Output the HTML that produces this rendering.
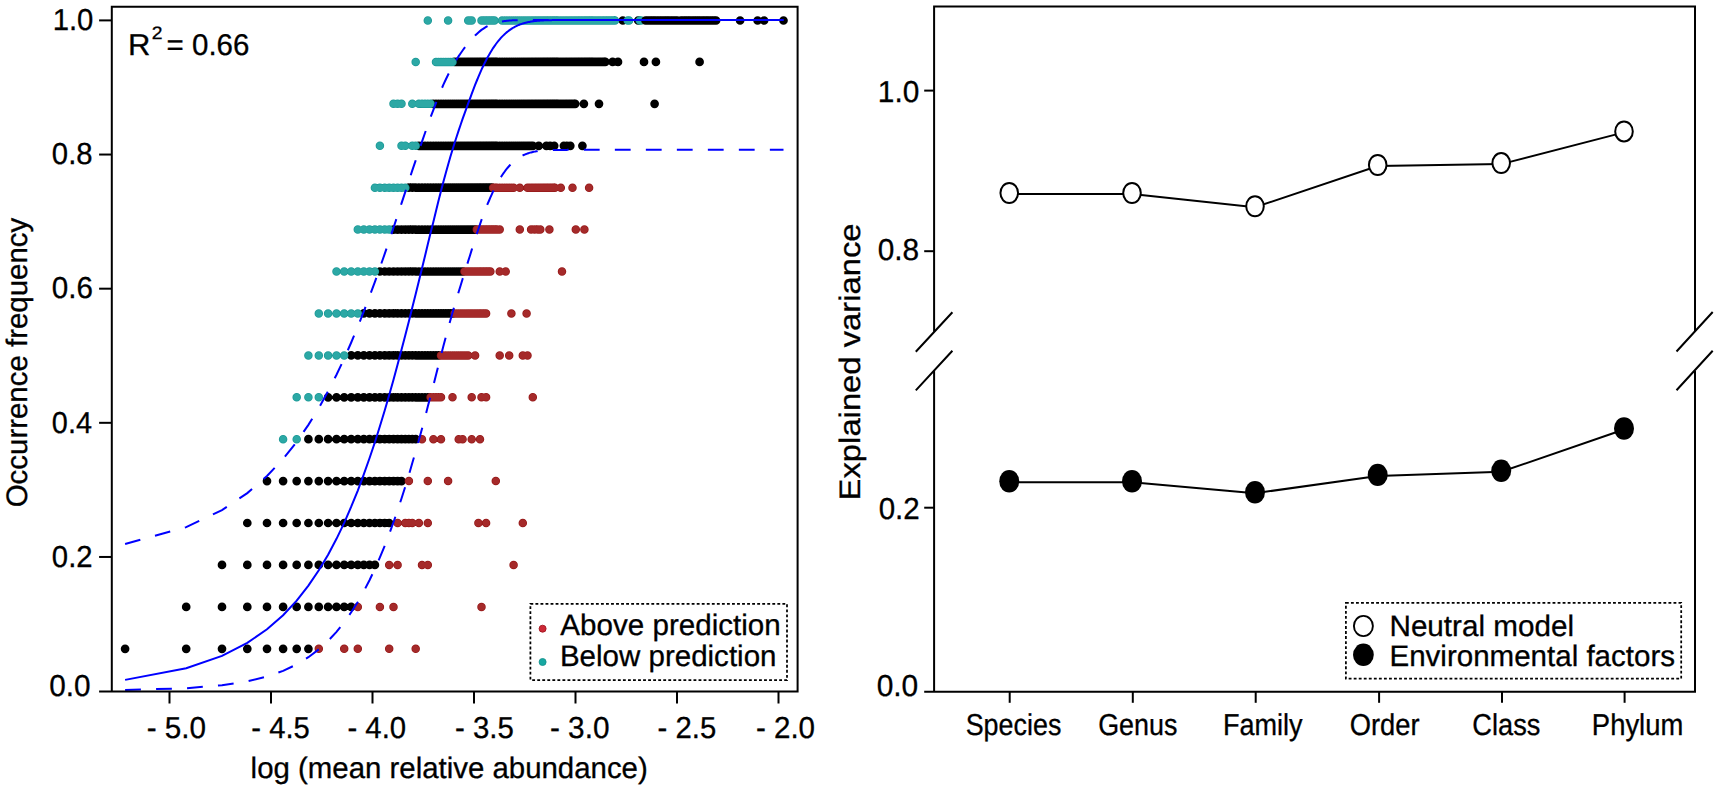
<!DOCTYPE html>
<html lang="en"><head><meta charset="utf-8"><title>Neutral model fit and explained variance</title>
<style>html,body{margin:0;padding:0;background:#fff}svg{display:block}text{font-family:"Liberation Sans",sans-serif;fill:#000;text-rendering:geometricPrecision;stroke:#000;stroke-width:0.3px}</style></head><body>
<svg width="1719" height="790" viewBox="0 0 1719 790">
<rect width="1719" height="790" fill="#fff"/>
<g id="left-panel">
<g fill="none" stroke-linecap="round">
<path d="M125.1 648.8h0M186.2 648.8h0M222 648.8h0M247.3 648.8h0M267 648.8h0M283.1 648.8h0M296.7 648.8h0M308.4 648.8h0M186.2 606.9h0M222 606.9h0M247.3 606.9h0M267 606.9h0M283.1 606.9h0M296.7 606.9h0M308.4 606.9h0M318.8 606.9h0M328.1 606.9h0M336.5 606.9h0M344.2 606.9h0M351.2 606.9h0M222 564.9h0M247.3 564.9h0M267 564.9h0M283.1 564.9h0M296.7 564.9h0M308.4 564.9h0M318.8 564.9h0M328.1 564.9h0M336.5 564.9h0M344.2 564.9h0M351.2 564.9h0M357.8 564.9h0M363.8 564.9h0M369.5 564.9h0M374.9 564.9h0M247.3 523h0M267 523h0M283.1 523h0M296.7 523h0M308.4 523h0M318.8 523h0M328.1 523h0M336.5 523h0M344.2 523h0M351.2 523h0M357.8 523h0M363.8 523h0M369.5 523h0M374.9 523h0M379.9 523h0M384.7 523h0M389.2 523h0M267 481.1h0M283.1 481.1h0M296.7 481.1h0M308.4 481.1h0M318.8 481.1h0M328.1 481.1h0M336.5 481.1h0M344.2 481.1h0M351.2 481.1h0M357.8 481.1h0M363.8 481.1h0M369.5 481.1h0M374.9 481.1h0M379.9 481.1h0M384.7 481.1h0M389.2 481.1h0M393.5 481.1h0M397.6 481.1h0M401.5 481.1h0M308.4 439.2h0M318.8 439.2h0M328.1 439.2h0M336.5 439.2h0M344.2 439.2h0M351.2 439.2h0M357.8 439.2h0M363.8 439.2h0M369.5 439.2h0M374.9 439.2h0M379.9 439.2h0M384.7 439.2h0M389.2 439.2h0M393.5 439.2h0M397.6 439.2h0M401.5 439.2h0M405.3 439.2h0M408.9 439.2h0M412.3 439.2h0M415.7 439.2h0M328.1 397.3h0M336.5 397.3h0M344.2 397.3h0M351.2 397.3h0M357.8 397.3h0M363.8 397.3h0M369.5 397.3h0M374.9 397.3h0M379.9 397.3h0M384.7 397.3h0M389.2 397.3h0M393.5 397.3h0M397.6 397.3h0M401.5 397.3h0M405.3 397.3h0M408.9 397.3h0M412.3 397.3h0M415.7 397.3h0M418.9 397.3h0M422 397.3h0M425 397.3h0M427.8 397.3h0M351.2 355.4h0M357.8 355.4h0M363.8 355.4h0M369.5 355.4h0M374.9 355.4h0M379.9 355.4h0M384.7 355.4h0M389.2 355.4h0M393.5 355.4h0M397.6 355.4h0M401.5 355.4h0M405.3 355.4h0M408.9 355.4h0M412.3 355.4h0M415.7 355.4h0M418.9 355.4h0M422 355.4h0M425 355.4h0M427.8 355.4h0M430.6 355.4h0M433.4 355.4h0M436 355.4h0M438.5 355.4h0M363.8 313.4h0M369.5 313.4h0M374.9 313.4h0M379.9 313.4h0M384.7 313.4h0M389.2 313.4h0M393.5 313.4h0M397.6 313.4h0M401.5 313.4h0M405.3 313.4h0M408.9 313.4h0M412.3 313.4h0M415.7 313.4h0M418.9 313.4h0M422 313.4h0M425 313.4h0M427.8 313.4h0M430.6 313.4h0M433.4 313.4h0M436 313.4h0M438.5 313.4h0M441 313.4h0M443.4 313.4h0M445.8 313.4h0M448.1 313.4h0M450.3 313.4h0M452.5 313.4h0M379.9 271.5h0M384.7 271.5h0M389.2 271.5h0M393.5 271.5h0M397.6 271.5h0M401.5 271.5h0M405.3 271.5h0M408.9 271.5h0M412.3 271.5h0M415.7 271.5h0M418.9 271.5h0M422 271.5h0M425 271.5h0M427.8 271.5h0M430.6 271.5h0M433.4 271.5h0M436 271.5h0M438.5 271.5h0M441 271.5h0M443.4 271.5h0M445.8 271.5h0M448.1 271.5h0M450.3 271.5h0M452.5 271.5h0M454.6 271.5h0M456.7 271.5h0M458.7 271.5h0M460.7 271.5h0M462.6 271.5h0M393.5 229.6h0M397.6 229.6h0M401.5 229.6h0M405.3 229.6h0M408.9 229.6h0M412.3 229.6h0M415.7 229.6h0M418.9 229.6h0M422 229.6h0M425 229.6h0M427.8 229.6h0M430.6 229.6h0M433.4 229.6h0M436 229.6h0M438.5 229.6h0M441 229.6h0M443.4 229.6h0M445.8 229.6h0M448.1 229.6h0M450.3 229.6h0M452.5 229.6h0M454.6 229.6h0M456.7 229.6h0M458.7 229.6h0M460.7 229.6h0M462.6 229.6h0M464.5 229.6h0M466.4 229.6h0M468.2 229.6h0M470 229.6h0M471.7 229.6h0M473.4 229.6h0M475.1 229.6h0M408.9 187.7h0M412.3 187.7h0M415.7 187.7h0M418.9 187.7h0M422 187.7h0M425 187.7h0M427.8 187.7h0M430.6 187.7h0M433.4 187.7h0M436 187.7h0M438.5 187.7h0M441 187.7h0M443.4 187.7h0M445.8 187.7h0M448.1 187.7h0M450.3 187.7h0M452.5 187.7h0M454.6 187.7h0M456.7 187.7h0M458.7 187.7h0M460.7 187.7h0M462.6 187.7h0M464.5 187.7h0M466.4 187.7h0M468.2 187.7h0M470 187.7h0M471.7 187.7h0M473.4 187.7h0M475.1 187.7h0M476.8 187.7h0M478.4 187.7h0M480 187.7h0M481.5 187.7h0M483.1 187.7h0M484.6 187.7h0M486.1 187.7h0M487.5 187.7h0M489 187.7h0M490.4 187.7h0M491.8 187.7h0M418.9 145.8h0M422 145.8h0M425 145.8h0M427.8 145.8h0M430.6 145.8h0M433.4 145.8h0M436 145.8h0M438.5 145.8h0M441 145.8h0M443.4 145.8h0M445.8 145.8h0M448.1 145.8h0M450.3 145.8h0M452.5 145.8h0M454.6 145.8h0M456.7 145.8h0M458.7 145.8h0M460.7 145.8h0M462.6 145.8h0M464.5 145.8h0M466.4 145.8h0M468.2 145.8h0M470 145.8h0M471.7 145.8h0M473.4 145.8h0M475.1 145.8h0M476.8 145.8h0M478.4 145.8h0M480 145.8h0M481.5 145.8h0M483.1 145.8h0M484.6 145.8h0M486.1 145.8h0M487.5 145.8h0M489 145.8h0M490.4 145.8h0M491.8 145.8h0M493.1 145.8h0M494.5 145.8h0M495.8 145.8h0M497.1 145.8h0M499.7 145.8h0M502.1 145.8h0M504.6 145.8h0M506.9 145.8h0M509.2 145.8h0M511.4 145.8h0M513.6 145.8h0M515.7 145.8h0M517.8 145.8h0M519.8 145.8h0M521.8 145.8h0M523.7 145.8h0M525.6 145.8h0M527.5 145.8h0M529.3 145.8h0M531.1 145.8h0M532.8 145.8h0M538.7 145.8h0M546.4 145.8h0M550.1 145.8h0M554.2 145.8h0M563.9 145.8h0M566.8 145.8h0M570.3 145.8h0M582.4 145.8h0M433.4 103.8h0M436 103.8h0M438.5 103.8h0M441 103.8h0M443.4 103.8h0M445.8 103.8h0M448.1 103.8h0M450.3 103.8h0M452.5 103.8h0M454.6 103.8h0M456.7 103.8h0M458.7 103.8h0M460.7 103.8h0M462.6 103.8h0M464.5 103.8h0M466.4 103.8h0M468.2 103.8h0M470 103.8h0M471.7 103.8h0M473.4 103.8h0M475.1 103.8h0M476.8 103.8h0M478.4 103.8h0M480 103.8h0M481.5 103.8h0M483.1 103.8h0M484.6 103.8h0M486.1 103.8h0M487.5 103.8h0M489 103.8h0M490.4 103.8h0M491.8 103.8h0M493.1 103.8h0M494.5 103.8h0M495.8 103.8h0M497.1 103.8h0M499.7 103.8h0M502.1 103.8h0M504.6 103.8h0M506.9 103.8h0M509.2 103.8h0M511.4 103.8h0M513.6 103.8h0M515.7 103.8h0M517.8 103.8h0M519.8 103.8h0M521.8 103.8h0M523.7 103.8h0M525.6 103.8h0M527.5 103.8h0M529.3 103.8h0M531.1 103.8h0M532.8 103.8h0M534.6 103.8h0M536.2 103.8h0M537.9 103.8h0M539.5 103.8h0M541.1 103.8h0M542.7 103.8h0M544.2 103.8h0M545.7 103.8h0M547.2 103.8h0M548.6 103.8h0M550.1 103.8h0M551.5 103.8h0M552.9 103.8h0M554.2 103.8h0M555.6 103.8h0M556.9 103.8h0M558.2 103.8h0M560.1 103.8h0M562 103.8h0M563.9 103.8h0M565.7 103.8h0M567.4 103.8h0M569.2 103.8h0M570.9 103.8h0M572.5 103.8h0M574.2 103.8h0M575.2 103.8h0M583.9 103.8h0M599 103.8h0M654.6 103.8h0M454.6 61.9h0M456.7 61.9h0M458.7 61.9h0M460.7 61.9h0M462.6 61.9h0M464.5 61.9h0M466.4 61.9h0M468.2 61.9h0M470 61.9h0M471.7 61.9h0M473.4 61.9h0M475.1 61.9h0M476.8 61.9h0M478.4 61.9h0M480 61.9h0M481.5 61.9h0M483.1 61.9h0M484.6 61.9h0M486.1 61.9h0M487.5 61.9h0M489 61.9h0M490.4 61.9h0M491.8 61.9h0M493.1 61.9h0M494.5 61.9h0M495.8 61.9h0M497.1 61.9h0M499.7 61.9h0M502.1 61.9h0M504.6 61.9h0M506.9 61.9h0M509.2 61.9h0M511.4 61.9h0M513.6 61.9h0M515.7 61.9h0M517.8 61.9h0M519.8 61.9h0M521.8 61.9h0M523.7 61.9h0M525.6 61.9h0M527.5 61.9h0M529.3 61.9h0M531.1 61.9h0M532.8 61.9h0M534.6 61.9h0M536.2 61.9h0M537.9 61.9h0M539.5 61.9h0M541.1 61.9h0M542.7 61.9h0M544.2 61.9h0M545.7 61.9h0M547.2 61.9h0M548.6 61.9h0M550.1 61.9h0M551.5 61.9h0M552.9 61.9h0M554.2 61.9h0M555.6 61.9h0M556.9 61.9h0M558.2 61.9h0M560.1 61.9h0M562 61.9h0M563.9 61.9h0M565.7 61.9h0M567.4 61.9h0M569.2 61.9h0M570.9 61.9h0M572.5 61.9h0M574.2 61.9h0M575.8 61.9h0M577.4 61.9h0M578.9 61.9h0M580.4 61.9h0M581.9 61.9h0M583.4 61.9h0M584.9 61.9h0M586.3 61.9h0M587.7 61.9h0M589.1 61.9h0M590.4 61.9h0M591.8 61.9h0M593.1 61.9h0M594.8 61.9h0M596.5 61.9h0M598.2 61.9h0M599.8 61.9h0M601.4 61.9h0M603 61.9h0M604.5 61.9h0M605.3 61.9h0M612.6 61.9h0M618 61.9h0M644 61.9h0M655.9 61.9h0M699.6 61.9h0M622.8 20.5h0M638.2 20.5h0" stroke="#000" stroke-width="8.7"/>
<path d="M318.8 648.8h0M344.2 648.8h0M357.8 648.8h0M389.2 648.8h0M415.7 648.8h0M357.8 606.9h0M379.9 606.9h0M393.5 606.9h0M481.5 606.9h0M389.2 564.9h0M397.6 564.9h0M422 564.9h0M427.8 564.9h0M513.6 564.9h0M397.6 523h0M405.3 523h0M408.9 523h0M412.3 523h0M418.9 523h0M427.8 523h0M478.4 523h0M486.1 523h0M522.8 523h0M408.9 481.1h0M427.8 481.1h0M448.1 481.1h0M495.8 481.1h0M422 439.2h0M433.4 439.2h0M441 439.2h0M458.7 439.2h0M462.6 439.2h0M471.7 439.2h0M480 439.2h0M430.6 397.3h0M433.4 397.3h0M436 397.3h0M438.5 397.3h0M441 397.3h0M452.5 397.3h0M471.7 397.3h0M481.5 397.3h0M486.1 397.3h0M532.8 397.3h0M441 355.4h0M443.4 355.4h0M445.8 355.4h0M448.1 355.4h0M450.3 355.4h0M452.5 355.4h0M454.6 355.4h0M456.7 355.4h0M458.7 355.4h0M460.7 355.4h0M462.6 355.4h0M464.5 355.4h0M466.4 355.4h0M468.2 355.4h0M475.1 355.4h0M499.7 355.4h0M509.2 355.4h0M522.8 355.4h0M527.5 355.4h0M454.6 313.4h0M456.7 313.4h0M458.7 313.4h0M460.7 313.4h0M462.6 313.4h0M464.5 313.4h0M466.4 313.4h0M468.2 313.4h0M470 313.4h0M471.7 313.4h0M473.4 313.4h0M475.1 313.4h0M476.8 313.4h0M478.4 313.4h0M480 313.4h0M481.5 313.4h0M483.1 313.4h0M484.6 313.4h0M486.1 313.4h0M511.4 313.4h0M526.6 313.4h0M464.5 271.5h0M466.4 271.5h0M468.2 271.5h0M470 271.5h0M471.7 271.5h0M473.4 271.5h0M475.1 271.5h0M476.8 271.5h0M478.4 271.5h0M480 271.5h0M481.5 271.5h0M483.1 271.5h0M484.6 271.5h0M486.1 271.5h0M487.5 271.5h0M489 271.5h0M490.4 271.5h0M499.7 271.5h0M505.7 271.5h0M562 271.5h0M476.8 229.6h0M478.4 229.6h0M480 229.6h0M481.5 229.6h0M483.1 229.6h0M484.6 229.6h0M486.1 229.6h0M487.5 229.6h0M489 229.6h0M490.4 229.6h0M491.8 229.6h0M493.1 229.6h0M494.5 229.6h0M495.8 229.6h0M497.1 229.6h0M499.7 229.6h0M519.8 229.6h0M531.1 229.6h0M534.6 229.6h0M537.9 229.6h0M540.3 229.6h0M549.4 229.6h0M575.8 229.6h0M584.4 229.6h0M493.1 187.7h0M494.5 187.7h0M495.8 187.7h0M497.1 187.7h0M499.7 187.7h0M502.1 187.7h0M504.6 187.7h0M506.9 187.7h0M509.2 187.7h0M511.4 187.7h0M513.6 187.7h0M519.8 187.7h0M527.5 187.7h0M529.3 187.7h0M531.1 187.7h0M532.8 187.7h0M534.6 187.7h0M536.2 187.7h0M537.9 187.7h0M539.5 187.7h0M541.1 187.7h0M542.7 187.7h0M544.2 187.7h0M545.7 187.7h0M547.2 187.7h0M548.6 187.7h0M550.1 187.7h0M551.5 187.7h0M552.9 187.7h0M554.2 187.7h0M554.9 187.7h0M560.8 187.7h0M572.5 187.7h0M589.1 187.7h0" stroke="#961818" stroke-width="8.5"/>
<path d="M318.8 648.8h0M344.2 648.8h0M357.8 648.8h0M389.2 648.8h0M415.7 648.8h0M357.8 606.9h0M379.9 606.9h0M393.5 606.9h0M481.5 606.9h0M389.2 564.9h0M397.6 564.9h0M422 564.9h0M427.8 564.9h0M513.6 564.9h0M397.6 523h0M405.3 523h0M408.9 523h0M412.3 523h0M418.9 523h0M427.8 523h0M478.4 523h0M486.1 523h0M522.8 523h0M408.9 481.1h0M427.8 481.1h0M448.1 481.1h0M495.8 481.1h0M422 439.2h0M433.4 439.2h0M441 439.2h0M458.7 439.2h0M462.6 439.2h0M471.7 439.2h0M480 439.2h0M430.6 397.3h0M433.4 397.3h0M436 397.3h0M438.5 397.3h0M441 397.3h0M452.5 397.3h0M471.7 397.3h0M481.5 397.3h0M486.1 397.3h0M532.8 397.3h0M441 355.4h0M443.4 355.4h0M445.8 355.4h0M448.1 355.4h0M450.3 355.4h0M452.5 355.4h0M454.6 355.4h0M456.7 355.4h0M458.7 355.4h0M460.7 355.4h0M462.6 355.4h0M464.5 355.4h0M466.4 355.4h0M468.2 355.4h0M475.1 355.4h0M499.7 355.4h0M509.2 355.4h0M522.8 355.4h0M527.5 355.4h0M454.6 313.4h0M456.7 313.4h0M458.7 313.4h0M460.7 313.4h0M462.6 313.4h0M464.5 313.4h0M466.4 313.4h0M468.2 313.4h0M470 313.4h0M471.7 313.4h0M473.4 313.4h0M475.1 313.4h0M476.8 313.4h0M478.4 313.4h0M480 313.4h0M481.5 313.4h0M483.1 313.4h0M484.6 313.4h0M486.1 313.4h0M511.4 313.4h0M526.6 313.4h0M464.5 271.5h0M466.4 271.5h0M468.2 271.5h0M470 271.5h0M471.7 271.5h0M473.4 271.5h0M475.1 271.5h0M476.8 271.5h0M478.4 271.5h0M480 271.5h0M481.5 271.5h0M483.1 271.5h0M484.6 271.5h0M486.1 271.5h0M487.5 271.5h0M489 271.5h0M490.4 271.5h0M499.7 271.5h0M505.7 271.5h0M562 271.5h0M476.8 229.6h0M478.4 229.6h0M480 229.6h0M481.5 229.6h0M483.1 229.6h0M484.6 229.6h0M486.1 229.6h0M487.5 229.6h0M489 229.6h0M490.4 229.6h0M491.8 229.6h0M493.1 229.6h0M494.5 229.6h0M495.8 229.6h0M497.1 229.6h0M499.7 229.6h0M519.8 229.6h0M531.1 229.6h0M534.6 229.6h0M537.9 229.6h0M540.3 229.6h0M549.4 229.6h0M575.8 229.6h0M584.4 229.6h0M493.1 187.7h0M494.5 187.7h0M495.8 187.7h0M497.1 187.7h0M499.7 187.7h0M502.1 187.7h0M504.6 187.7h0M506.9 187.7h0M509.2 187.7h0M511.4 187.7h0M513.6 187.7h0M519.8 187.7h0M527.5 187.7h0M529.3 187.7h0M531.1 187.7h0M532.8 187.7h0M534.6 187.7h0M536.2 187.7h0M537.9 187.7h0M539.5 187.7h0M541.1 187.7h0M542.7 187.7h0M544.2 187.7h0M545.7 187.7h0M547.2 187.7h0M548.6 187.7h0M550.1 187.7h0M551.5 187.7h0M552.9 187.7h0M554.2 187.7h0M554.9 187.7h0M560.8 187.7h0M572.5 187.7h0M589.1 187.7h0" stroke="#A52A2A" stroke-width="7"/>
<path d="M283.1 439.2h0M296.7 439.2h0M296.7 397.3h0M308.4 397.3h0M318.8 397.3h0M308.4 355.4h0M318.8 355.4h0M328.1 355.4h0M336.5 355.4h0M344.2 355.4h0M318.8 313.4h0M328.1 313.4h0M336.5 313.4h0M344.2 313.4h0M351.2 313.4h0M357.8 313.4h0M336.5 271.5h0M344.2 271.5h0M351.2 271.5h0M357.8 271.5h0M363.8 271.5h0M369.5 271.5h0M374.9 271.5h0M357.8 229.6h0M363.8 229.6h0M369.5 229.6h0M374.9 229.6h0M379.9 229.6h0M384.7 229.6h0M389.2 229.6h0M374.9 187.7h0M379.9 187.7h0M384.7 187.7h0M389.2 187.7h0M393.5 187.7h0M397.6 187.7h0M401.5 187.7h0M405.3 187.7h0M379.9 145.8h0M401.5 145.8h0M405.3 145.8h0M412.3 145.8h0M415.7 145.8h0M393.5 103.8h0M397.6 103.8h0M401.5 103.8h0M412.3 103.8h0M418.9 103.8h0M422 103.8h0M425 103.8h0M427.8 103.8h0M430.6 103.8h0M415.7 61.9h0M436 61.9h0M438.5 61.9h0M441 61.9h0M443.4 61.9h0M445.8 61.9h0M448.1 61.9h0M450.3 61.9h0M452.5 61.9h0M427.8 20.5h0M448.1 20.5h0M468.2 20.5h0M470 20.5h0M471.7 20.5h0M481.5 20.5h0M483.1 20.5h0M484.6 20.5h0M486.1 20.5h0M487.5 20.5h0M489 20.5h0M490.4 20.5h0M491.8 20.5h0M493.1 20.5h0M494.5 20.5h0M502.1 20.5h0M504.6 20.5h0M506.9 20.5h0M509.2 20.5h0M511.4 20.5h0M513.6 20.5h0M515.7 20.5h0M517.8 20.5h0M519.8 20.5h0M521.8 20.5h0M523.7 20.5h0M525.6 20.5h0M527.5 20.5h0M529.3 20.5h0M531.1 20.5h0M532.8 20.5h0M534.6 20.5h0M536.2 20.5h0M537.9 20.5h0M539.5 20.5h0M541.1 20.5h0M542.7 20.5h0M544.2 20.5h0M545.7 20.5h0M547.2 20.5h0M548.6 20.5h0M550.1 20.5h0M551.5 20.5h0M552.9 20.5h0M554.2 20.5h0M555.6 20.5h0M556.9 20.5h0M558.2 20.5h0M560.1 20.5h0M562 20.5h0M563.9 20.5h0M565.7 20.5h0M567.4 20.5h0M569.2 20.5h0M570.9 20.5h0M572.5 20.5h0M574.2 20.5h0M575.8 20.5h0M577.4 20.5h0M578.9 20.5h0M580.4 20.5h0M581.9 20.5h0M583.4 20.5h0M584.9 20.5h0M586.3 20.5h0M587.7 20.5h0M589.1 20.5h0M590.4 20.5h0M591.8 20.5h0M593.1 20.5h0M594.8 20.5h0M596.5 20.5h0M598.2 20.5h0M599.8 20.5h0M601.4 20.5h0M603 20.5h0M604.5 20.5h0M606.1 20.5h0M607.5 20.5h0M609 20.5h0M610.5 20.5h0M611.9 20.5h0M613.3 20.5h0M614.7 20.5h0M615 20.5h0M627.7 20.5h0M629.1 20.5h0M639.8 20.5h0M641 20.5h0" stroke="#1A9896" stroke-width="8.5"/>
<path d="M283.1 439.2h0M296.7 439.2h0M296.7 397.3h0M308.4 397.3h0M318.8 397.3h0M308.4 355.4h0M318.8 355.4h0M328.1 355.4h0M336.5 355.4h0M344.2 355.4h0M318.8 313.4h0M328.1 313.4h0M336.5 313.4h0M344.2 313.4h0M351.2 313.4h0M357.8 313.4h0M336.5 271.5h0M344.2 271.5h0M351.2 271.5h0M357.8 271.5h0M363.8 271.5h0M369.5 271.5h0M374.9 271.5h0M357.8 229.6h0M363.8 229.6h0M369.5 229.6h0M374.9 229.6h0M379.9 229.6h0M384.7 229.6h0M389.2 229.6h0M374.9 187.7h0M379.9 187.7h0M384.7 187.7h0M389.2 187.7h0M393.5 187.7h0M397.6 187.7h0M401.5 187.7h0M405.3 187.7h0M379.9 145.8h0M401.5 145.8h0M405.3 145.8h0M412.3 145.8h0M415.7 145.8h0M393.5 103.8h0M397.6 103.8h0M401.5 103.8h0M412.3 103.8h0M418.9 103.8h0M422 103.8h0M425 103.8h0M427.8 103.8h0M430.6 103.8h0M415.7 61.9h0M436 61.9h0M438.5 61.9h0M441 61.9h0M443.4 61.9h0M445.8 61.9h0M448.1 61.9h0M450.3 61.9h0M452.5 61.9h0M427.8 20.5h0M448.1 20.5h0M468.2 20.5h0M470 20.5h0M471.7 20.5h0M481.5 20.5h0M483.1 20.5h0M484.6 20.5h0M486.1 20.5h0M487.5 20.5h0M489 20.5h0M490.4 20.5h0M491.8 20.5h0M493.1 20.5h0M494.5 20.5h0M502.1 20.5h0M504.6 20.5h0M506.9 20.5h0M509.2 20.5h0M511.4 20.5h0M513.6 20.5h0M515.7 20.5h0M517.8 20.5h0M519.8 20.5h0M521.8 20.5h0M523.7 20.5h0M525.6 20.5h0M527.5 20.5h0M529.3 20.5h0M531.1 20.5h0M532.8 20.5h0M534.6 20.5h0M536.2 20.5h0M537.9 20.5h0M539.5 20.5h0M541.1 20.5h0M542.7 20.5h0M544.2 20.5h0M545.7 20.5h0M547.2 20.5h0M548.6 20.5h0M550.1 20.5h0M551.5 20.5h0M552.9 20.5h0M554.2 20.5h0M555.6 20.5h0M556.9 20.5h0M558.2 20.5h0M560.1 20.5h0M562 20.5h0M563.9 20.5h0M565.7 20.5h0M567.4 20.5h0M569.2 20.5h0M570.9 20.5h0M572.5 20.5h0M574.2 20.5h0M575.8 20.5h0M577.4 20.5h0M578.9 20.5h0M580.4 20.5h0M581.9 20.5h0M583.4 20.5h0M584.9 20.5h0M586.3 20.5h0M587.7 20.5h0M589.1 20.5h0M590.4 20.5h0M591.8 20.5h0M593.1 20.5h0M594.8 20.5h0M596.5 20.5h0M598.2 20.5h0M599.8 20.5h0M601.4 20.5h0M603 20.5h0M604.5 20.5h0M606.1 20.5h0M607.5 20.5h0M609 20.5h0M610.5 20.5h0M611.9 20.5h0M613.3 20.5h0M614.7 20.5h0M615 20.5h0M627.7 20.5h0M629.1 20.5h0M639.8 20.5h0M641 20.5h0" stroke="#2CA8A5" stroke-width="7"/>
<path d="M645.5 20.5h0M646.9 20.5h0M648.3 20.5h0M649.7 20.5h0M651.1 20.5h0M652.4 20.5h0M653.8 20.5h0M655.1 20.5h0M656.6 20.5h0M658 20.5h0M659.5 20.5h0M660.9 20.5h0M662.3 20.5h0M663.7 20.5h0M665.1 20.5h0M666.4 20.5h0M667.7 20.5h0M669 20.5h0M670.5 20.5h0M671.9 20.5h0M673.3 20.5h0M674.7 20.5h0M676.1 20.5h0M677.5 20.5h0M680.6 20.5h0M682 20.5h0M683.5 20.5h0M684.9 20.5h0M686.2 20.5h0M687.6 20.5h0M688.9 20.5h0M690.2 20.5h0M691.7 20.5h0M693.1 20.5h0M694.5 20.5h0M695.8 20.5h0M697.2 20.5h0M698.5 20.5h0M699.8 20.5h0M701.3 20.5h0M702.7 20.5h0M704 20.5h0M705.4 20.5h0M706.7 20.5h0M708 20.5h0M709.4 20.5h0M710.8 20.5h0M712.2 20.5h0M713.5 20.5h0M714.9 20.5h0M716.1 20.5h0M740.1 20.5h0M757.6 20.5h0M764.1 20.5h0M783.5 20.5h0" stroke="#000" stroke-width="8.7"/>
</g>
<g fill="none" stroke="#0000FF" stroke-width="2">
<polyline points="125.1,679.86 186.2,668.24 222,655.9 247.3,642.9 267,629.31 283.1,615.18 296.7,600.59 308.4,585.6 318.8,570.27 328.1,554.65 336.5,538.82 344.2,522.82 351.2,506.71 357.8,490.55 363.8,474.38 369.5,458.26 374.9,442.21 379.9,426.3 384.7,410.54 389.2,394.99 393.5,379.67 397.6,364.61 401.5,349.84 405.3,335.37 408.9,321.24 412.3,307.46 415.7,294.03 418.9,280.99 422,268.33 425,256.06 427.8,244.2 430.6,232.74 433.4,221.68 436,211.04 438.5,200.8 441,190.96 443.4,181.63 445.8,172.89 448.1,164.7 450.3,157 452.5,149.75 454.6,142.92 456.7,136.46 458.7,130.33 460.7,124.5 462.6,118.92 464.5,113.58 466.4,108.43 468.2,103.45 470,98.63 471.7,93.93 473.4,89.34 475.1,84.92 476.8,80.75 478.4,76.81 480,73.09 481.5,69.58 483.1,66.28 484.6,63.17 486.1,60.25 487.5,57.5 489,54.92 490.4,52.5 491.8,50.23 493.1,48.1 494.5,46.11 495.8,44.24 497.1,42.5 498.4,40.87 499.7,39.35 500.9,37.93 502.1,36.6 503.4,35.37 504.6,34.22 505.7,33.15 506.9,32.15 508.1,31.23 509.2,30.36 510.3,29.57 511.4,28.82 512.5,28.13 513.6,27.5 514.7,26.91 515.7,26.36 516.8,25.85 517.8,25.38 518.8,24.95 519.8,24.55 520.8,24.18 521.8,23.84 522.8,23.52 523.7,23.23 524.7,22.96 525.6,22.71 526.6,22.49 527.5,22.28 528.4,22.09 529.3,21.91 530.2,21.75 531.1,21.6 532,21.46 532.8,21.33 533.7,21.22 534.6,21.11 535.4,21.01 536.2,20.93 537.1,20.84 537.9,20.77 538.7,20.7 539.5,20.64 540.3,20.58 541.1,20.53 541.9,20.48 542.7,20.44 543.4,20.4 544.2,20.36 544.9,20.33 545.7,20.3 546.4,20.27 547.2,20.25 547.9,20.22 548.6,20.2 549.4,20.18 550.1,20.17 550.8,20.15 551.5,20.14 552.2,20.12 552.9,20.11 553.5,20.1 554.2,20.09 554.9,20.08 555.6,20.07 556.2,20.07 556.9,20.06 557.6,20.06 558.2,20.05 558.9,20.04 559.5,20.04 560.1,20.04 560.8,20.03 561.4,20.03 562,20.03 562.6,20.02 563.2,20.02 563.9,20.02 564.5,20.02 565.1,20.02 565.7,20.01 566.3,20.01 566.8,20.01 567.4,20.01 568,20.01 568.6,20.01 569.2,20.01 569.7,20.01 570.3,20.01 570.9,20.01 571.4,20 572,20 572.5,20 573.1,20 573.6,20 574.2,20 574.7,20 575.2,20 575.8,20 576.3,20 576.8,20 577.4,20 577.9,20 578.4,20 578.9,20 579.4,20 579.9,20 580.4,20 580.9,20 581.4,20 581.9,20 582.4,20 582.9,20 583.4,20 583.9,20 584.4,20 584.9,20 585.3,20 585.8,20 586.3,20 586.8,20 587.2,20 587.7,20 588.1,20 588.6,20 589.1,20 589.5,20 590,20 590.4,20 590.9,20 591.3,20 591.8,20 592.2,20 595.2,20 598.6,20 601.8,20 605.3,20 608.3,20 611.5,20 615,20 618,20 621.2,20 624.7,20 628,20 631.1,20 634.5,20 637.7,20 640.8,20 644,20 647.4,20 650.6,20 653.8,20 657,20 660.3,20 663.5,20 666.8,20 669.9,20 673.3,20 676.4,20 679.8,20 683,20 686.2,20 689.5,20 692.7,20 696,20 699.2,20 702.4,20 705.6,20 709,20 712.2,20 715.4,20 718.6,20 721.9,20 725.1,20 728.4,20 731.6,20 734.9,20 738.1,20 741.4,20 744.6,20 747.8,20 751.1,20 754.3,20 757.6,20 760.8,20 764,20 767.3,20 770.5,20 773.8,20 777,20 780.3,20 783.5,20"/>
<polyline points="125.1,544.01 186.2,527.1 222,510.12 247.3,493.08 267,475.99 283.1,458.89 296.7,441.83 308.4,424.85 318.8,407.98 328.1,391.28 336.5,374.77 344.2,358.51 351.2,342.51 357.8,326.83 363.8,311.47 369.5,296.49 374.9,281.88 379.9,267.69 384.7,253.92 389.2,240.59 393.5,227.72 397.6,215.3 401.5,203.36 405.3,191.89 408.9,180.9 412.3,170.39 415.7,160.35 418.9,150.78 422,141.68 425,133.04 427.8,124.85 430.6,117.1 433.4,109.78 436,102.88 438.5,96.39 441,90.3 443.4,84.65 445.8,79.47 448.1,74.73 450.3,70.38 452.5,66.38 454.6,62.69 456.7,59.29 458.7,56.13 460.7,53.21 462.6,50.48 464.5,47.93 466.4,45.54 468.2,43.29 470,41.17 471.7,39.17 473.4,37.28 475.1,35.52 476.8,33.91 478.4,32.45 480,31.12 481.5,29.92 483.1,28.83 484.6,27.84 486.1,26.96 487.5,26.16 489,25.44 490.4,24.8 491.8,24.23 493.1,23.71 494.5,23.26 495.8,22.85 497.1,22.49 498.4,22.18 499.7,21.9 500.9,21.65 502.1,21.43 503.4,21.24 504.6,21.07 505.7,20.93 506.9,20.8 508.1,20.69 509.2,20.59 510.3,20.51 511.4,20.44 512.5,20.37 513.6,20.32 514.7,20.27 515.7,20.23 516.8,20.2 517.8,20.17 518.8,20.14 519.8,20.12 520.8,20.1 521.8,20.09 522.8,20.07 523.7,20.06 524.7,20.05 525.6,20.04 526.6,20.04 527.5,20.03 528.4,20.03 529.3,20.02 530.2,20.02 531.1,20.02 532,20.01 532.8,20.01 533.7,20.01 534.6,20.01 535.4,20.01 536.2,20.01 537.1,20 537.9,20 538.7,20 539.5,20 540.3,20 541.1,20 541.9,20 542.7,20 543.4,20 544.2,20 544.9,20 545.7,20 546.4,20 547.2,20 547.9,20 548.6,20 549.4,20 550.1,20 550.8,20 551.5,20 552.2,20 552.9,20 553.5,20 554.2,20 554.9,20 555.6,20 556.2,20 556.9,20 557.6,20 558.2,20 558.9,20 559.5,20 560.1,20 560.8,20 561.4,20 562,20 562.6,20 563.2,20 563.9,20 564.5,20 565.1,20 565.7,20 566.3,20 566.8,20 567.4,20 568,20 568.6,20 569.2,20 569.7,20 570.3,20 570.9,20 571.4,20 572,20 572.5,20 573.1,20 573.6,20 574.2,20 574.7,20 575.2,20 575.8,20 576.3,20 576.8,20 577.4,20 577.9,20 578.4,20 578.9,20 579.4,20 579.9,20 580.4,20 580.9,20 581.4,20 581.9,20 582.4,20 582.9,20 583.4,20 583.9,20 584.4,20 584.9,20 585.3,20 585.8,20 586.3,20 586.8,20 587.2,20 587.7,20 588.1,20 588.6,20 589.1,20 589.5,20 590,20 590.4,20 590.9,20 591.3,20 591.8,20 592.2,20 595.2,20 598.6,20 601.8,20 605.3,20 608.3,20 611.5,20 615,20 618,20 621.2,20 624.7,20 628,20 631.1,20 634.5,20 637.7,20 640.8,20 644,20 647.4,20 650.6,20 653.8,20 657,20 660.3,20 663.5,20 666.8,20 669.9,20 673.3,20 676.4,20 679.8,20 683,20 686.2,20 689.5,20 692.7,20 696,20 699.2,20 702.4,20 705.6,20 709,20 712.2,20 715.4,20 718.6,20 721.9,20 725.1,20 728.4,20 731.6,20 734.9,20 738.1,20 741.4,20 744.6,20 747.8,20 751.1,20 754.3,20 757.6,20 760.8,20 764,20 767.3,20 770.5,20 773.8,20 777,20 780.3,20 783.5,20" stroke-dasharray="15.8 15.2"/>
<polyline points="125.1,690.05 186.2,688.21 222,685.29 247.3,681.38 267,676.54 283.1,670.86 296.7,664.39 308.4,657.2 318.8,649.33 328.1,640.85 336.5,631.82 344.2,622.29 351.2,612.3 357.8,601.92 363.8,591.2 369.5,580.18 374.9,568.91 379.9,557.43 384.7,545.8 389.2,534.04 393.5,522.21 397.6,510.33 401.5,498.45 405.3,486.59 408.9,474.79 412.3,463.07 415.7,451.46 418.9,439.99 422,428.67 425,417.53 427.8,406.59 430.6,395.86 433.4,385.35 436,375.08 438.5,365.05 441,355.28 443.4,345.89 445.8,336.97 448.1,328.49 450.3,320.43 452.5,312.74 454.6,305.41 456.7,298.39 458.7,291.66 460.7,285.18 462.6,278.92 464.5,272.85 466.4,266.94 468.2,261.16 470,255.49 471.7,249.91 473.4,244.4 475.1,239.04 476.8,233.92 478.4,229.02 480,224.36 481.5,219.91 483.1,215.67 484.6,211.64 486.1,207.81 487.5,204.18 489,200.74 490.4,197.47 491.8,194.38 493.1,191.46 494.5,188.71 495.8,186.1 497.1,183.65 498.4,181.34 499.7,179.17 500.9,177.12 502.1,175.2 503.4,173.4 504.6,171.71 505.7,170.13 506.9,168.65 508.1,167.27 509.2,165.98 510.3,164.77 511.4,163.65 512.5,162.6 513.6,161.63 514.7,160.72 515.7,159.88 516.8,159.09 517.8,158.37 518.8,157.69 519.8,157.07 520.8,156.49 521.8,155.95 522.8,155.46 523.7,155 524.7,154.58 525.6,154.19 526.6,153.83 527.5,153.5 528.4,153.19 529.3,152.91 530.2,152.65 531.1,152.42 532,152.2 532.8,152 533.7,151.81 534.6,151.64 535.4,151.49 536.2,151.34 537.1,151.21 537.9,151.09 538.7,150.98 539.5,150.88 540.3,150.79 541.1,150.71 541.9,150.63 542.7,150.56 543.4,150.5 544.2,150.44 544.9,150.39 545.7,150.34 546.4,150.29 547.2,150.25 547.9,150.22 548.6,150.18 549.4,150.15 550.1,150.12 550.8,150.1 551.5,150.08 552.2,150.06 552.9,150.04 553.5,150.02 554.2,150 554.9,149.99 555.6,149.98 556.2,149.97 556.9,149.96 557.6,149.95 558.2,149.94 558.9,149.93 559.5,149.92 560.1,149.92 560.8,149.91 561.4,149.9 562,149.9 562.6,149.9 563.2,149.89 563.9,149.89 564.5,149.88 565.1,149.88 565.7,149.88 566.3,149.88 566.8,149.88 567.4,149.87 568,149.87 568.6,149.87 569.2,149.87 569.7,149.87 570.3,149.87 570.9,149.87 571.4,149.86 572,149.86 572.5,149.86 573.1,149.86 573.6,149.86 574.2,149.86 574.7,149.86 575.2,149.86 575.8,149.86 576.3,149.86 576.8,149.86 577.4,149.86 577.9,149.86 578.4,149.86 578.9,149.86 579.4,149.86 579.9,149.86 580.4,149.86 580.9,149.86 581.4,149.86 581.9,149.86 582.4,149.86 582.9,149.86 583.4,149.86 583.9,149.86 584.4,149.86 584.9,149.86 585.3,149.86 585.8,149.86 586.3,149.86 586.8,149.86 587.2,149.86 587.7,149.86 588.1,149.86 588.6,149.86 589.1,149.86 589.5,149.86 590,149.86 590.4,149.86 590.9,149.86 591.3,149.86 591.8,149.86 592.2,149.86 595.2,149.86 598.6,149.86 601.8,149.86 605.3,149.86 608.3,149.86 611.5,149.86 615,149.86 618,149.86 621.2,149.86 624.7,149.86 628,149.86 631.1,149.86 634.5,149.86 637.7,149.86 640.8,149.86 644,149.86 647.4,149.86 650.6,149.86 653.8,149.86 657,149.86 660.3,149.86 663.5,149.86 666.8,149.86 669.9,149.86 673.3,149.86 676.4,149.86 679.8,149.86 683,149.86 686.2,149.86 689.5,149.86 692.7,149.86 696,149.86 699.2,149.86 702.4,149.86 705.6,149.86 709,149.86 712.2,149.86 715.4,149.86 718.6,149.86 721.9,149.86 725.1,149.86 728.4,149.86 731.6,149.86 734.9,149.86 738.1,149.86 741.4,149.86 744.6,149.86 747.8,149.86 751.1,149.86 754.3,149.86 757.6,149.86 760.8,149.86 764,149.86 767.3,149.86 770.5,149.86 773.8,149.86 777,149.86 780.3,149.86 783.5,149.86" stroke-dasharray="15.8 15.2"/>
</g>
<g fill="none" stroke="#000" stroke-width="2">
<path d="M99.1 691.4H797.6V6.85H111.8V691.4"/>
<path d="M99.1 20.4H111.8"/>
<path d="M99.1 154.54H111.8"/>
<path d="M99.1 288.68H111.8"/>
<path d="M99.1 422.82H111.8"/>
<path d="M99.1 556.96H111.8"/>
<path d="M169.5 691.4V703.5"/>
<path d="M271 691.4V703.5"/>
<path d="M372.5 691.4V703.5"/>
<path d="M474 691.4V703.5"/>
<path d="M575.5 691.4V703.5"/>
<path d="M677 691.4V703.5"/>
<path d="M778.5 691.4V703.5"/>
</g>
<text transform="translate(52.63 29.65) scale(0.9667 1)" font-size="30.3">1.0</text>
<text transform="translate(51.86 164.45) scale(0.9667 1)" font-size="30.3">0.8</text>
<text transform="translate(51.84 297.95) scale(0.9771 1)" font-size="30.3">0.6</text>
<text transform="translate(51.87 432.85) scale(0.9513 1)" font-size="30.3">0.4</text>
<text transform="translate(51.86 567.25) scale(0.9667 1)" font-size="30.3">0.2</text>
<text transform="translate(49.24 696.35) scale(0.981 1)" font-size="30.3">0.0</text>
<text transform="translate(146.68 738.15) scale(0.9794 1)" font-size="30.3">- 5.0</text>
<text transform="translate(251.3 738.15) scale(0.9653 1)" font-size="30.3">- 4.5</text>
<text transform="translate(347.45 738.15) scale(0.9682 1)" font-size="30.3">- 4.0</text>
<text transform="translate(454.99 738.15) scale(0.9705 1)" font-size="30.3">- 3.5</text>
<text transform="translate(549.88 738.15) scale(0.9828 1)" font-size="30.3">- 3.0</text>
<text transform="translate(657.6 738.15) scale(0.9671 1)" font-size="30.3">- 2.5</text>
<text transform="translate(755.89 738.15) scale(0.9759 1)" font-size="30.3">- 2.0</text>
<text transform="translate(250.62 777.65) scale(0.9934 1)" font-size="29.6">log (mean relative abundance)</text>
<text transform="translate(27.1 507.29) rotate(-90) scale(0.9943 1)" font-size="29.6">Occurrence frequency</text>
<text transform="translate(128.06 55) scale(1.033 1)" font-size="30">R</text>
<text transform="translate(151.83 39.2) scale(1.0731 1)" font-size="18">2</text>
<text transform="translate(166.56 55.3) scale(0.9833 1)" font-size="30">= 0.66</text>
<rect x="530.4" y="603.9" width="256.6" height="76.1" fill="#fff" stroke="#000" stroke-width="1.75" stroke-dasharray="2.85 2.19"/>
<circle cx="542.6" cy="628.7" r="3.5" fill="#CC2936" stroke="#A31621" stroke-width="0.9"/>
<circle cx="542.6" cy="662" r="3.5" fill="#17A8A2" stroke="#14938E" stroke-width="0.9"/>
<text transform="translate(560.34 634.5) scale(0.9995 1)" font-size="29.6">Above prediction</text>
<text transform="translate(559.88 666.4) scale(0.9975 1)" font-size="29.6">Below prediction</text>
</g>
<g id="right-panel">
<g fill="none" stroke="#000" stroke-width="2">
<path d="M934.1 331.8V6.5H1695V331.2"/>
<path d="M1695 370.7V691.8H924.2"/>
<path d="M934.1 691.8V370.8"/>
<path d="M915.8 351.8L952.4 312.2M915.8 390.4L952.4 350.8"/>
<path d="M1676.5 351.5L1712.7 312M1676.5 390.2L1712.7 350.7"/>
<path d="M924.2 90.6H934.1"/>
<path d="M924.2 251.2H934.1"/>
<path d="M924.2 507.7H934.1"/>
<path d="M1009.7 691.8V702.8"/>
<path d="M1132.8 691.8V702.8"/>
<path d="M1255.7 691.8V702.8"/>
<path d="M1379.1 691.8V702.8"/>
<path d="M1502 691.8V702.8"/>
<path d="M1624.6 691.8V702.8"/>
</g>
<text transform="translate(877.8 101.95) scale(0.9843 1)" font-size="30.3">1.0</text>
<text transform="translate(877.63 260.05) scale(0.9843 1)" font-size="30.3">0.8</text>
<text transform="translate(878.65 518.55) scale(0.9743 1)" font-size="30.3">0.2</text>
<text transform="translate(876.63 696.35) scale(0.9886 1)" font-size="30.3">0.0</text>
<text transform="translate(965.68 734.5) scale(0.8907 1)" font-size="30.2">Species</text>
<text transform="translate(1098.15 734.5) scale(0.8904 1)" font-size="30.2">Genus</text>
<text transform="translate(1222.98 734.5) scale(0.896 1)" font-size="30.2">Family</text>
<text transform="translate(1349.71 734.5) scale(0.9048 1)" font-size="30.2">Order</text>
<text transform="translate(1472.32 734.5) scale(0.9027 1)" font-size="30.2">Class</text>
<text transform="translate(1591.85 734.5) scale(0.9082 1)" font-size="30.2">Phylum</text>
<text transform="translate(860.4 500.39) rotate(-90) scale(1.1077 1)" font-size="29.6">Explained variance</text>
<polyline fill="none" stroke="#000" stroke-width="2" points="1009.25,194 1132,194 1255,207.25 1377.7,166 1501.2,164.1 1624,132.4"/>
<polyline fill="none" stroke="#000" stroke-width="2" points="1009.25,482.25 1132,482.25 1255,493.25 1377.7,475.9 1501.2,471.8 1624,429.5"/>
<ellipse cx="1009.25" cy="193" rx="8.8" ry="10" fill="#fff" stroke="#000" stroke-width="2"/>
<ellipse cx="1132" cy="193" rx="8.8" ry="10" fill="#fff" stroke="#000" stroke-width="2"/>
<ellipse cx="1255" cy="206.25" rx="8.8" ry="10" fill="#fff" stroke="#000" stroke-width="2"/>
<ellipse cx="1377.7" cy="165" rx="8.8" ry="10" fill="#fff" stroke="#000" stroke-width="2"/>
<ellipse cx="1501.2" cy="163.1" rx="8.8" ry="10" fill="#fff" stroke="#000" stroke-width="2"/>
<ellipse cx="1624" cy="131.4" rx="8.8" ry="10" fill="#fff" stroke="#000" stroke-width="2"/>
<ellipse cx="1009.25" cy="481.25" rx="10" ry="11.2" fill="#000"/>
<ellipse cx="1132" cy="481.25" rx="10" ry="11.2" fill="#000"/>
<ellipse cx="1255" cy="492.25" rx="10" ry="11.2" fill="#000"/>
<ellipse cx="1377.7" cy="474.9" rx="10" ry="11.2" fill="#000"/>
<ellipse cx="1501.2" cy="470.8" rx="10" ry="11.2" fill="#000"/>
<ellipse cx="1624" cy="428.5" rx="10" ry="11.2" fill="#000"/>
<rect x="1345.9" y="602.8" width="335.3" height="75.9" fill="#fff" stroke="#000" stroke-width="1.75" stroke-dasharray="2.85 2.19"/>
<ellipse cx="1363.4" cy="626" rx="9.5" ry="10.1" fill="#fff" stroke="#000" stroke-width="1.9"/>
<ellipse cx="1363.4" cy="654.8" rx="10.4" ry="11.2" fill="#000"/>
<text transform="translate(1389.47 635.9) scale(1.0019 1)" font-size="29.6">Neutral model</text>
<text transform="translate(1389.48 666.3) scale(0.9977 1)" font-size="29.6">Environmental factors</text>
</g>
</svg></body></html>
